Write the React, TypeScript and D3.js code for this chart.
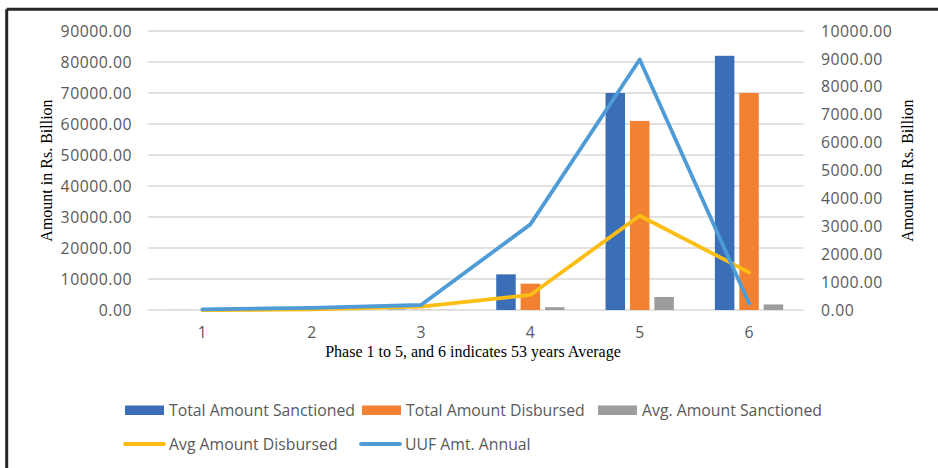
import React from "react";
import * as d3 from "d3";

// ---- data ----
const categories = ["1", "2", "3", "4", "5", "6"];
const totalSanctioned = [20, 50, 120, 11500, 70000, 82000];
const totalDisbursed = [10, 30, 90, 8500, 61000, 70000];
const avgSanctioned = [5, 10, 30, 900, 4200, 1800];
const avgDisbursed = [0, 20, 120, 540, 3380, 1350];
const uufAnnual = [25, 75, 180, 3070, 8980, 240];
const leftTicks = [0, 10000, 20000, 30000, 40000, 50000, 60000, 70000, 80000, 90000];
const rightTicks = [0, 1000, 2000, 3000, 4000, 5000, 6000, 7000, 8000, 9000, 10000];
const barSeriesNames = ["Total Amount Sanctioned", "Total Amount Disbursed", "Avg. Amount Sanctioned"];
const lineSeriesNames = ["Avg Amount Disbursed", "UUF Amt. Annual"];
const yTitle = "Amount in Rs. Billion";
const xTitle = "Phase 1 to 5, and 6 indicates 53 years Average";

// ---- layout / style ----
const W = 938;
const H = 468;
const PL = 147.7;
const PR = 803.7;
const PT = 31;
const PB = 310;
const BAR_W = 19.5;
const BAR_STEP = 24.4;
const SANS = "'Open Sans', sans-serif";
const SERIF = "'Liberation Serif', 'Times New Roman', serif";
const TXT = "#595959";
const FS = 15.8;
const barColors = ["#3A6FB7", "#F28232", "#9D9D9D"];
const lineColors = ["#FDBE14", "#4F9BD6"];
const legendRow1 = [125, 362, 598];
const legendRow2 = [123, 359];

export default function App() {
  const x = d3.scaleBand<string>().domain(categories).range([PL, PR]).padding(0);
  const yL = d3.scaleLinear().domain([0, 90000]).range([PB, PT]);
  const yR = d3.scaleLinear().domain([0, 10000]).range([PB, PT]);
  const fmt = d3.format(".2f");
  const cx = (c: string) => (x(c) as number) + x.bandwidth() / 2;

  const barSeries = [totalSanctioned, totalDisbursed, avgSanctioned];
  const lineSeries = [avgDisbursed, uufAnnual];

  const lineGen = d3
    .line<number>()
    .x((_, i) => cx(categories[i]))
    .y((d) => yR(d));

  return (
    <svg
      width={W}
      height={H}
      style={{ position: "absolute", left: 0, top: 0, background: "#fff" }}
    >
      <rect x={0} y={0} width={W} height={H} fill="#fff" />
      {/* frame */}
      <line x1={6.7} y1={9.3} x2={W + 5} y2={9.3} stroke="#262626" strokeWidth={3} />
      <line x1={6.7} y1={9.3} x2={6.7} y2={H + 5} stroke="#262626" strokeWidth={3} />

      {/* gridlines */}
      {leftTicks.map((t) => (
        <line key={"g" + t} x1={PL} x2={PR} y1={yL(t)} y2={yL(t)} stroke="#D9D9D9" strokeWidth={1.4} />
      ))}

      {/* left ticks */}
      {leftTicks.map((t) => (
        <text key={"l" + t} x={132} y={yL(t)} dy="0.36em" textAnchor="end" fontFamily={SANS} fontSize={FS} letterSpacing={0.5} fill={TXT}>
          {fmt(t)}
        </text>
      ))}
      {/* right ticks */}
      {rightTicks.map((t) => (
        <text key={"r" + t} x={821} y={yR(t)} dy="0.36em" textAnchor="start" fontFamily={SANS} fontSize={FS} letterSpacing={0.5} fill={TXT}>
          {fmt(t)}
        </text>
      ))}

      {/* bars */}
      {barSeries.map((s, si) =>
        s.map((v, i) => {
          const c = cx(categories[i]) + (si - 1) * BAR_STEP;
          return (
            <rect
              key={"b" + si + "-" + i}
              x={c - BAR_W / 2}
              y={yL(v)}
              width={BAR_W}
              height={PB - yL(v)}
              fill={barColors[si]}
            />
          );
        })
      )}

      {/* lines */}
      {lineSeries.map((s, si) => (
        <path
          key={"ln" + si}
          d={lineGen(s) as string}
          fill="none"
          stroke={lineColors[si]}
          strokeWidth={3.8}
          strokeLinejoin="round"
          strokeLinecap="round"
        />
      ))}

      {/* x tick labels */}
      {categories.map((c) => (
        <text key={"x" + c} x={cx(c)} y={337.5} textAnchor="middle" fontFamily={SANS} fontSize={FS} fill={TXT}>
          {c}
        </text>
      ))}

      {/* axis titles */}
      <text
        transform={`translate(51.5,170.5) rotate(-90)`}
        textAnchor="middle"
        fontFamily={SERIF}
        fontSize={16}
        fill="#000"
      >
        {yTitle}
      </text>
      <text
        transform={`translate(912.5,170.5) rotate(-90)`}
        textAnchor="middle"
        fontFamily={SERIF}
        fontSize={16}
        fill="#000"
      >
        {yTitle}
      </text>
      <text x={473} y={357} textAnchor="middle" fontFamily={SERIF} fontSize={16} fill="#000">
        {xTitle}
      </text>

      {/* legend */}
      {barSeriesNames.map((n, i) => (
        <g key={"lg" + i}>
          <rect x={legendRow1[i]} y={405.5} width={39} height={9.5} fill={barColors[i]} />
          <text x={legendRow1[i] + 44} y={410} dy="0.36em" fontFamily={SANS} fontSize={FS} fill={TXT}>
            {n}
          </text>
        </g>
      ))}
      {lineSeriesNames.map((n, i) => (
        <g key={"ll" + i}>
          <line
            x1={legendRow2[i] + 2}
            x2={legendRow2[i] + 41}
            y1={444}
            y2={444}
            stroke={lineColors[i]}
            strokeWidth={3.8}
            strokeLinecap="round"
          />
          <text x={legendRow2[i] + 46} y={444} dy="0.36em" fontFamily={SANS} fontSize={FS} fill={TXT}>
            {n}
          </text>
        </g>
      ))}
    </svg>
  );
}
